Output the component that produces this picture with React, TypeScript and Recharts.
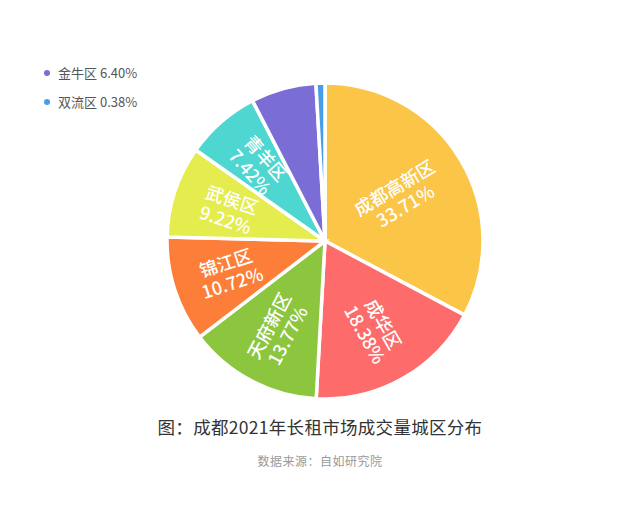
import React from 'react';
import { PieChart, Pie, Cell, Legend } from 'recharts';

const districts = ['成都高新区', '成华区', '天府新区', '锦江区', '武侯区', '青羊区', '金牛区', '双流区'];
const shares = [33.71, 18.38, 13.77, 10.72, 9.22, 7.42, 6.4, 0.38];
const colors = ['#FBC548', '#FD6B6B', '#8CC63F', '#FD7E38', '#E4EC4E', '#4ED6D0', '#7A6DD5', '#479DEA'];
// the two smallest slices are labelled in the legend instead of inside the pie
const legendOnly = ['金牛区', '双流区'];

const data = districts.map((name, i) => ({ name, value: shares[i] }));

const FONT = '"Noto Sans CJK SC", "Noto Sans", sans-serif';
const RAD = Math.PI / 180;

const renderLabel = (props: any) => {
  const { cx, cy, midAngle, outerRadius, index } = props;
  const d = data[index];
  if (legendOnly.includes(d.name)) return null;
  const r = outerRadius * (index === 0 ? 0.55 : 0.64);
  const x = cx + r * Math.cos(-midAngle * RAD);
  const y = cy + r * Math.sin(-midAngle * RAD);
  const onRight = Math.cos(-midAngle * RAD) >= 0;
  const rot = onRight ? -midAngle : -midAngle + 180;
  return (
    <text
      x={x}
      y={y}
      transform={`rotate(${rot}, ${x}, ${y})`}
      fill="#fff"
      fontSize={18}
      fontWeight={500}
      fontFamily={FONT}
      textAnchor="middle"
    >
      <tspan x={x} dy={-3}>{d.name}</tspan>
      <tspan x={x} dy={21}>{d.value.toFixed(2)}%</tspan>
    </text>
  );
};

const SideLegend = () => (
  <div style={{ fontFamily: FONT, fontSize: 13, color: '#555' }}>
    {legendOnly.map((name) => {
      const i = districts.indexOf(name);
      return (
        <div key={name} style={{ display: 'flex', alignItems: 'center', height: 29 }}>
          <span
            style={{
              display: 'inline-block',
              width: 6,
              height: 6,
              borderRadius: 3,
              background: colors[i],
              marginRight: 8,
            }}
          />
          <span style={{ whiteSpace: 'pre' }}>
            {name} {shares[i].toFixed(2)}%
          </span>
        </div>
      );
    })}
  </div>
);

export default function App() {
  return (
    <div
      style={{
        position: 'absolute',
        left: 0,
        top: 0,
        width: 640,
        height: 515,
        background: '#fff',
        overflow: 'hidden',
      }}
    >
      <PieChart width={640} height={515}>
        <Pie
          data={data}
          dataKey="value"
          nameKey="name"
          cx={320}
          cy={236}
          outerRadius={158}
          startAngle={90}
          endAngle={-270}
          minAngle={2}
          stroke="#fff"
          strokeWidth={3.5}
          label={renderLabel}
          labelLine={false}
          isAnimationActive={false}
        >
          {data.map((d, i) => (
            <Cell key={d.name} fill={colors[i]} />
          ))}
        </Pie>
        <Legend
          content={() => <SideLegend />}
          wrapperStyle={{ position: 'absolute', left: 44, top: 58, width: 160 }}
        />
      </PieChart>
      <div
        style={{
          position: 'absolute',
          top: 414,
          left: 0,
          width: 640,
          textAlign: 'center',
          fontFamily: FONT,
          fontSize: 17.5,
          color: '#333',
          letterSpacing: 0.3,
        }}
      >
        图：成都2021年长租市场成交量城区分布
      </div>
      <div
        style={{
          position: 'absolute',
          top: 452,
          left: 0,
          width: 640,
          textAlign: 'center',
          fontFamily: FONT,
          fontSize: 12,
          color: '#999',
          letterSpacing: 0.5,
        }}
      >
        数据来源：自如研究院
      </div>
    </div>
  );
}
